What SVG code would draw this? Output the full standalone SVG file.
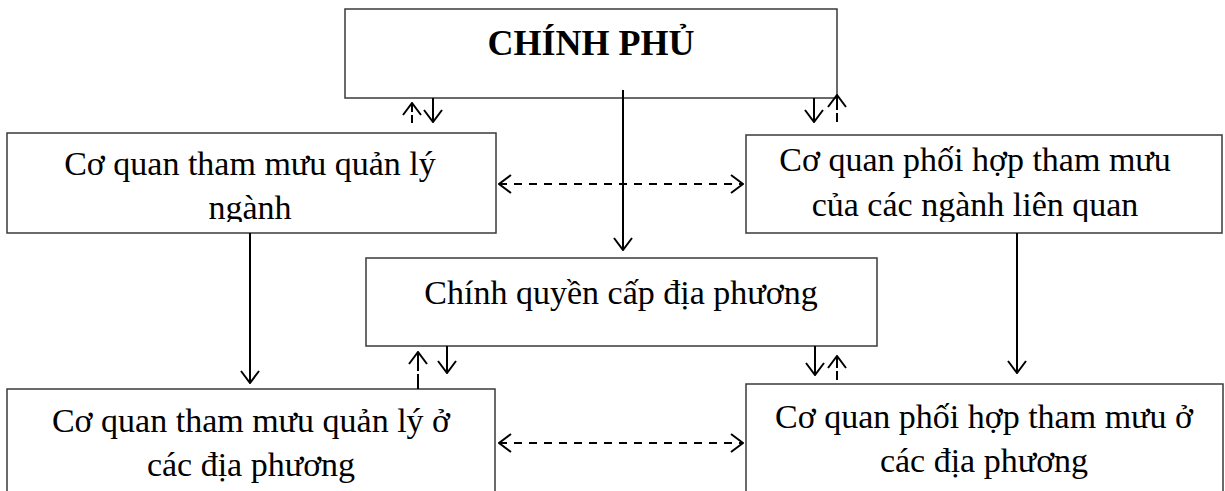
<svg xmlns="http://www.w3.org/2000/svg" width="1225" height="491" viewBox="0 0 1225 491">
  <style>
    .box { fill: #ffffff; stroke: #3a3a3a; stroke-width: 1.5; }
    .txt { font-family: "Liberation Serif", "Times New Roman", serif; font-size: 34px; fill: #000; text-anchor: middle; }
    .title { font-family: "Liberation Serif", "Times New Roman", serif; font-size: 36px; font-weight: bold; fill: #000; text-anchor: middle; }
    .ln { stroke: #000; stroke-width: 2; fill: none; }
    .dash { stroke: #000; stroke-width: 2; fill: none; stroke-dasharray: 8 7; }
  </style>
  <defs>
    <marker id="head" viewBox="0 0 14 20" refX="13" refY="10" markerWidth="14" markerHeight="20" markerUnits="userSpaceOnUse" orient="auto">
      <path d="M1,1 L13,10 L1,19" fill="none" stroke="#000" stroke-width="2"/>
    </marker>
    <marker id="tail" viewBox="0 0 14 20" refX="1" refY="10" markerWidth="14" markerHeight="20" markerUnits="userSpaceOnUse" orient="auto">
      <path d="M13,1 L1,10 L13,19" fill="none" stroke="#000" stroke-width="2"/>
    </marker>
    <!-- text areas of the upper side boxes; overflow is cut off -->
    <clipPath id="clipLeft"><rect x="7" y="133" width="489" height="89"/></clipPath>
    <clipPath id="clipRight"><rect x="746" y="135" width="476" height="87"/></clipPath>
  </defs>

  <!-- Government -->
  <g id="chinh-phu">
    <rect class="box" x="345" y="9" width="492" height="89"/>
    <text class="title" x="591" y="55">CHÍNH PHỦ</text>
  </g>

  <!-- Sector advisory body -->
  <g id="co-quan-nganh">
    <rect class="box" x="7" y="133" width="489" height="100"/>
    <g clip-path="url(#clipLeft)">
      <text class="txt" x="250" y="175">Cơ quan tham mưu quản lý</text>
      <text class="txt" x="250" y="219">ngành</text>
    </g>
  </g>

  <!-- Coordinating bodies of related sectors -->
  <g id="co-quan-phoi-hop">
    <rect class="box" x="746" y="135" width="476" height="98"/>
    <g clip-path="url(#clipRight)">
      <text class="txt" x="975" y="171">Cơ quan phối hợp tham mưu</text>
      <text class="txt" x="975" y="216">của các ngành liên quan</text>
    </g>
  </g>

  <!-- Local government -->
  <g id="chinh-quyen">
    <rect class="box" x="366" y="258" width="511" height="88"/>
    <text class="txt" x="621" y="304">Chính quyền cấp địa phương</text>
  </g>

  <!-- Local advisory body -->
  <g id="co-quan-dia-phuong">
    <rect class="box" x="7" y="389" width="488" height="110"/>
    <text class="txt" x="251" y="432">Cơ quan tham mưu quản lý ở</text>
    <text class="txt" x="251" y="476">các địa phương</text>
  </g>

  <!-- Local coordinating body -->
  <g id="phoi-hop-dia-phuong">
    <rect class="box" x="746" y="384" width="477" height="115"/>
    <text class="txt" x="984" y="428">Cơ quan phối hợp tham mưu ở</text>
    <text class="txt" x="984" y="472">các địa phương</text>
  </g>

  <!-- Connectors -->
  <g id="connectors">
    <!-- government to local government -->
    <line class="ln" x1="623" y1="90" x2="623" y2="250" marker-end="url(#head)"/>

    <!-- government <-> sector body -->
    <line class="ln" x1="433" y1="98" x2="433" y2="122" marker-end="url(#head)"/>
    <line class="ln" x1="412" y1="123" x2="412" y2="115"/>
    <line class="ln" x1="412" y1="112" x2="412" y2="103" marker-end="url(#head)"/>

    <!-- government <-> coordinating bodies -->
    <line class="ln" x1="814" y1="98" x2="814" y2="122" marker-end="url(#head)"/>
    <line class="ln" x1="837" y1="122" x2="837" y2="113"/>
    <line class="ln" x1="837" y1="110" x2="837" y2="95" marker-end="url(#head)"/>

    <!-- sector body <-> coordinating bodies -->
    <line class="dash" x1="499" y1="184" x2="743" y2="184" marker-start="url(#tail)" marker-end="url(#head)"/>

    <!-- vertical links to local level -->
    <line class="ln" x1="250" y1="233" x2="250" y2="383" marker-end="url(#head)"/>
    <line class="ln" x1="1017" y1="233" x2="1017" y2="373" marker-end="url(#head)"/>

    <!-- local government <-> local advisory body -->
    <line class="ln" x1="447" y1="346" x2="447" y2="373" marker-end="url(#head)"/>
    <line class="ln" x1="418" y1="389" x2="418" y2="374"/>
    <line class="ln" x1="418" y1="371" x2="418" y2="352" marker-end="url(#head)"/>

    <!-- local government <-> local coordinating body -->
    <line class="ln" x1="815" y1="346" x2="815" y2="375" marker-end="url(#head)"/>
    <line class="ln" x1="837" y1="380" x2="837" y2="371"/>
    <line class="ln" x1="837" y1="368" x2="837" y2="356" marker-end="url(#head)"/>

    <!-- local advisory body <-> local coordinating body -->
    <line class="dash" x1="499" y1="443" x2="743" y2="443" marker-start="url(#tail)" marker-end="url(#head)"/>
  </g>
</svg>
